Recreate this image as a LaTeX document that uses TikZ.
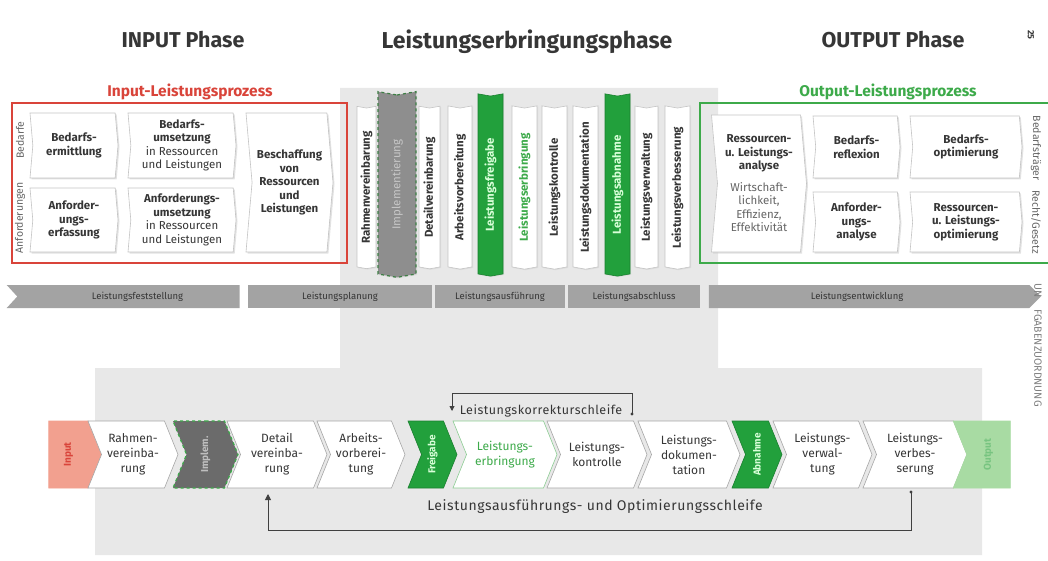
\documentclass[tikz,border=0pt]{standalone}
\usepackage{fontspec}
\setmainfont{Fira Sans}
\usetikzlibrary{shapes.symbols,shadows,arrows.meta}
\definecolor{gbg}{HTML}{E8E8E8}
\definecolor{ired}{HTML}{D9443A}
\definecolor{ogreen}{HTML}{3DAA4A}
\definecolor{vgreen}{HTML}{22A03C}
\definecolor{tgray}{HTML}{363636}
\definecolor{barg}{HTML}{A3A3A3}
\definecolor{bdr}{HTML}{C4C4C4}
\definecolor{insal}{HTML}{F2A08F}
\definecolor{outg}{HTML}{A8DBA3}
\definecolor{impg}{HTML}{6B6B6B}
\definecolor{impl}{HTML}{8E8E8E}
\definecolor{dgreen}{HTML}{3E7F45}
\begin{document}
\begin{tikzpicture}[x=1pt,y=-1pt,
  title/.style={font=\bfseries\fontsize{21.5}{24}\selectfont, text=tgray},
  sub/.style={font=\bfseries\fontsize{15.5}{17}\selectfont},
  topbox/.style={signal, signal to=east, signal from=west, signal pointer angle=170,
    fill=white, draw=bdr, line width=0.6pt,
    drop shadow={shadow xshift=1.5pt, shadow yshift=-1.5pt, fill=black!22},
    text=tgray, font=\bfseries\fontsize{11.5}{13.5}\selectfont, align=center, inner sep=0pt},
  vstrip/.style={signal, signal to=south, signal from=north, signal pointer angle=160,
    fill=white, draw=bdr, line width=0.6pt, text=tgray,
    drop shadow={shadow xshift=1pt, shadow yshift=-1pt, fill=black!18},
    font=\bfseries\fontsize{11.5}{13}\selectfont, inner sep=0pt, minimum height=161},
  gstrip/.style={vstrip, fill=vgreen, draw=vgreen!80!black, text=white!85!green, minimum height=180},
  phseg/.style={rectangle, fill=barg, text=tgray, font=\fontsize{9.5}{11}\selectfont,
    minimum height=23, inner sep=0pt},
  chev/.style={signal, signal to=east, signal from=west, signal pointer angle=136,
    fill=white, draw=black!35, line width=0.6pt, minimum height=67, inner sep=0pt,
    align=center, text=tgray, font=\fontsize{12}{15}\selectfont},
  side/.style={font=\fontsize{10.5}{12}\selectfont, text=black!60},
  loopline/.style={draw=black!75, line width=0.9pt},
  looplbl/.style={text=tgray}
]
\useasboundingbox (0,0) rectangle (1048,561);
\fill[white] (0,0) rectangle (1048,561);
% gray background
\fill[gbg] (340,88) -- (718,88) -- (718,368) -- (982,368) -- (982,555) -- (95,555) -- (95,368) -- (340,368) -- cycle;

% titles
\node[title] (tin) at (183,40) {INPUT Phase};
\node[title, font=\bfseries\fontsize{23}{26}\selectfont] (tmid) at (527,42) {Leistungserbringungsphase};
\node[title] (tout) at (893,40) {OUTPUT Phase};
\node[font=\bfseries\fontsize{9}{10}\selectfont, text=tgray, rotate=-90] (pg) at (1031,35) {25};

\node[sub, text=ired] (pin) at (190,92) {Input-Leistungsprozess};
\node[sub, text=ogreen] (pout) at (888,92) {Output-Leistungsprozess};

% frames
\draw[ired, line width=1.2pt] (12,103) rectangle (347,263);
\draw[ogreen, line width=1.2pt] (1048,103) -- (700,103) -- (700,263) -- (1048,263);

% input boxes
\node[side, rotate=90] (lbed) at (20,140) {Bedarfe};
\node[side, rotate=90] (lanf) at (20,218) {Anforderungen};
\node[topbox, minimum width=88, minimum height=65] (b1) at (74,145.5) {Bedarfs-\\ermittlung};
\node[topbox, minimum width=108, minimum height=65] (b2) at (182,145.5) {Bedarfs-\\umsetzung\\\mdseries in Ressourcen\\\mdseries und Leistungen};
\node[topbox, minimum width=88, minimum height=64] (b3) at (74,220) {Anforder-\\ungs-\\erfassung};
\node[topbox, minimum width=108, minimum height=64] (b4) at (182,220) {Anforderungs-\\umsetzung\\\mdseries in Ressourcen\\\mdseries und Leistungen};
\node[topbox, minimum width=87, minimum height=139] (b5) at (289.5,182.5) {Beschaffung\\von\\Ressourcen\\und\\Leistungen};

% vertical strips
\node[vstrip, minimum width=19] (v1) at (366.5,187.5) {\rotatebox{90}{Rahmenvereinbarung}};
\node[vstrip, minimum width=38, minimum height=181, fill=impl, draw=dgreen, dashed, line width=1.2pt, text=black!22, font=\fontsize{11.5}{13}\selectfont] (v2) at (397,184.5) {\rotatebox{90}{Implementierung}};
\node[vstrip, minimum width=21] (v3) at (429.5,187.5) {\rotatebox{90}{Detailvereinbarung}};
\node[vstrip, minimum width=24] (v4) at (460,187.5) {\rotatebox{90}{Arbeitsvorbereitung}};
\node[gstrip, minimum width=25] (v5) at (490.5,185) {\rotatebox{90}{Leistungsfreigabe}};
\node[vstrip, minimum width=25, text=ogreen] (v6) at (524.5,187.5) {\rotatebox{90}{Leistungserbringung}};
\node[vstrip, minimum width=25] (v7) at (554.5,187.5) {\rotatebox{90}{Leistungskontrolle}};
\node[vstrip, minimum width=25] (v8) at (585.5,187.5) {\rotatebox{90}{Leistungsdokumentation}};
\node[gstrip, minimum width=25] (v9) at (617.5,185) {\rotatebox{90}{Leistungsabnahme}};
\node[vstrip, minimum width=23] (v10) at (646.5,187.5) {\rotatebox{90}{Leistungsverwaltung}};
\node[vstrip, minimum width=25] (v11) at (677.5,187.5) {\rotatebox{90}{Leistungsverbesserung}};

% output boxes
\node[topbox, minimum width=95, minimum height=137] (o1) at (759,183.5) {Ressourcen-\\u. Leistungs-\\analyse\\[8pt]\mdseries\color{black!60}Wirtschaft-\\\mdseries\color{black!60}lichkeit,\\\mdseries\color{black!60}Effizienz,\\\mdseries\color{black!60}Effektivität};
\node[topbox, minimum width=87, minimum height=62] (o2) at (856.5,147) {Bedarfs-\\reflexion};
\node[topbox, minimum width=112, minimum height=62] (o3) at (966,147) {Bedarfs-\\optimierung};
\node[topbox, minimum width=87, minimum height=60] (o4) at (856.5,222) {Anforder-\\ungs-\\analyse};
\node[topbox, minimum width=112, minimum height=60] (o5) at (966,222) {Ressourcen-\\u. Leistungs-\\optimierung};
\node[side, rotate=-90] (rbed) at (1036,148) {Bedarfsträger};
\node[side, rotate=-90] (rrec) at (1036,222) {Recht/Gesetz};

% phase bar
\node[phseg, signal, signal from=west, signal to=nowhere, signal pointer angle=95, minimum width=233] (s1) at (128.5,296.5) {\hspace*{18pt}Leistungsfeststellung};
\node[phseg, minimum width=184] (s2) at (340,296.5) {Leistungsplanung};
\node[phseg, minimum width=130] (s3) at (500,296.5) {Leistungsausführung};
\node[phseg, minimum width=132] (s4) at (634,296.5) {Leistungsabschluss};
\node[phseg, signal, signal to=east, signal from=nowhere, signal pointer angle=90, minimum width=332] (s5) at (869,296.5) {Leistungsentwicklung\hspace*{24pt}};
\node[side, rotate=-90, text=black!50] (un1) at (1038,291) {UN};
\node[side, rotate=-90, text=black!50] (un2) at (1038,358) {FGABENZUORDNUNG};

% lower chevrons
\node[chev, signal from=nowhere, fill=insal, draw=insal, text=ired, font=\bfseries\fontsize{10}{12}\selectfont, minimum width=53] (c0) at (68.5,454.5) {\rotatebox{90}{Input}};
\node[chev, minimum width=90] (c1) at (133,454.5) {Rahmen-\\vereinba-\\rung};
\node[chev, minimum width=65, fill=impg, draw=ogreen, dashed, line width=1.2pt, text=black!25, font=\bfseries\fontsize{10}{12}\selectfont] (c2) at (205.5,454.5) {\rotatebox{90}{Implem.}};
\node[chev, minimum width=100] (c3) at (277,454.5) {Detail\\vereinba-\\rung};
\node[chev, minimum width=88] (c4) at (361,454.5) {Arbeits-\\vorberei-\\tung};
\node[chev, minimum width=49, fill=vgreen, draw=vgreen!80!black, text=white!85!green, font=\bfseries\fontsize{10}{12}\selectfont] (c5) at (432.5,454.5) {\rotatebox{90}{Freigabe}};
\node[chev, minimum width=104, text=ogreen, draw=ogreen!60] (c6) at (505,454.5) {Leistungs-\\erbringung};
\node[chev, minimum width=100] (c7) at (597,454.5) {Leistungs-\\kontrolle};
\node[chev, minimum width=102] (c8) at (689,454.5) {Leistungs-\\dokumen-\\tation};
\node[chev, minimum width=50, fill=vgreen, draw=vgreen!80!black, text=white!85!green, font=\bfseries\fontsize{10}{12}\selectfont] (c9) at (757,454.5) {\rotatebox{90}{Abnahme}};
\node[chev, minimum width=99] (c10) at (822.5,454.5) {Leistungs-\\verwal-\\tung};
\node[chev, minimum width=104] (c11) at (915,454.5) {Leistungs-\\verbes-\\serung};
\node[chev, signal to=nowhere, minimum width=57, fill=outg, draw=outg, text=ogreen!70!white, font=\bfseries\fontsize{10}{12}\selectfont] (c12) at (988.5,454.5) {\rotatebox{90}{Output}};

% loops
\coordinate (k1) at (632,414);
\coordinate (k2) at (452,411);
\fill[black!75] (k1) circle (1.6);
\draw[loopline, -{Triangle[length=5pt,width=5pt]}] (k1) -- ++(0,-21) -| (k2);
\node[looplbl, font=\fontsize{12.5}{14}\selectfont\addfontfeature{LetterSpace=4}] (kl) at (541,411) {Leistungskorrekturschleife};

\coordinate (m1) at (911,492);
\coordinate (m2) at (268,494);
\fill[black!75] (m1) circle (1.6);
\draw[loopline, -{Triangle[length=6pt,width=6pt]}] (m1) -- ++(0,38) -| (m2);
\node[looplbl, font=\fontsize{14}{16}\selectfont\addfontfeature{LetterSpace=4}] (ol) at (595,507) {Leistungsausführungs- und Optimierungsschleife};
\end{tikzpicture}
\end{document}
